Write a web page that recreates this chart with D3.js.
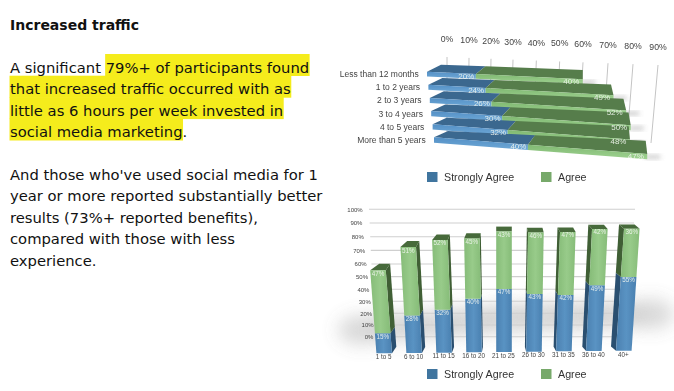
<!DOCTYPE html>
<html><head><meta charset="utf-8">
<script src="https://cdn.jsdelivr.net/npm/d3@7/dist/d3.min.js"></script>
<style>html,body{margin:0;padding:0;background:#fff}svg{display:block}</style></head>
<body><svg id="c" width="674" height="391" xmlns="http://www.w3.org/2000/svg"></svg>
<script>
// ---------- data ----------
const title = "Increased traffic";
const paragraphLines = [
  [["A significant ",false],["79%+ of participants found",true]],
  [["that increased traffic occurred with as",true]],
  [["little as 6 hours per week invested in",true]],
  [["social media marketing",true],[".",false]],
  [],
  [["And those who've used social media for 1",false]],
  [["year or more reported substantially better",false]],
  [["results (73%+ reported benefits),",false]],
  [["compared with those with less",false]],
  [["experience.",false]]
];
const legendNames = ["Strongly Agree","Agree"];
const expCategories = ["Less than 12 months","1 to 2 years","2 to 3 years","3 to 4 years","4 to 5 years","More than 5 years"];
const expStrong = [20,24,26,30,32,40];
const expAgree  = [40,49,52,50,48,47];
const expTicks  = [0,10,20,30,40,50,60,70,80,90];
const hourCategories = ["1 to 5","6 to 10","11 to 15","16 to 20","21 to 25","26 to 30","31 to 35","36 to 40","40+"];
const hourStrong = [15,28,32,40,47,43,42,49,55];
const hourAgree  = [47,51,52,45,43,46,47,42,36];
const hourTicks  = [0,10,20,30,40,50,60,70,80,90,100];

const svg = d3.select("#c");
const defs = svg.append("defs");
const poly = d3.line();
const SANS = "'Liberation Sans',Arial,sans-serif";

function grad(id,stops,x2,y2){
  const g=defs.append("linearGradient").attr("id",id).attr("x1",0).attr("y1",0).attr("x2",x2).attr("y2",y2);
  stops.forEach(([o,c])=>g.append("stop").attr("offset",o).attr("stop-color",c));
}
grad("fb",[[0,"#5490c6"],[1,"#6ea8d6"]],0,1);
grad("fg",[[0,"#80b972"],[1,"#9fd291"]],0,1);
grad("vb",[[0,"#4a80b0"],[.5,"#5a93c3"],[1,"#4a80b0"]],1,0);
grad("vg",[[0,"#86bc78"],[.5,"#98cb8a"],[1,"#86bc78"]],1,0);
[["soft",.35],["b3",2.5],["b9",9]].forEach(([id,s])=>{
  defs.append("filter").attr("id",id).attr("x","-60%").attr("y","-60%").attr("width","220%").attr("height","220%")
    .append("feGaussianBlur").attr("stdDeviation",s);
});

// ---------- left text ----------
const txt = svg.append("g").attr("font-family","'DejaVu Sans',Verdana,sans-serif").attr("font-size",14.75).attr("fill","#111");
txt.append("text").attr("x",10).attr("y",30).attr("font-size",14).attr("font-weight","bold").text(title);
const lineY = d3.scaleLinear().domain([0,9]).range([73,265.6]);
paragraphLines.forEach((runs,i)=>{
  let x=10;
  const y=lineY(i);
  runs.forEach(([s,hi])=>{
    const t=txt.append("text").attr("x",x).attr("y",y).text(s).style("white-space","pre");
    const w=t.node().getComputedTextLength();
    if(hi) txt.insert("rect","text").attr("x",x-.5).attr("y",y-19+(i==0?0:.3)).attr("width",w+1).attr("height",22).attr("fill","#f5ec1c");
    x+=w;
  });
});

// ---------- horizontal chart ----------
const top3 = svg.append("g").attr("filter","url(#soft)").attr("font-family",SANS);
const tickX = d3.scaleLinear().domain([0,30,60,90]).range([447,513,583,658]);
const tickTopY = d3.scaleLinear().domain([0,90]).range([57,65]);
const tickLabelY = d3.scaleLinear().domain([0,90]).range([42,50]);
const tickLean = d3.scaleLinear().domain([0,90]).range([0,7]);
top3.selectAll(".gl").data(expTicks).join("line").attr("class","gl")
  .attr("x1",d=>tickX(d)).attr("y1",d=>tickTopY(d))
  .attr("x2",d=>tickX(d)-tickLean(d)).attr("y2",143)
  .attr("stroke","#c4c4c4").attr("stroke-width",1);
top3.selectAll(".tl").data(expTicks).join("text").attr("class","tl")
  .attr("x",d=>tickX(d)).attr("y",d=>tickLabelY(d)).attr("text-anchor","middle")
  .attr("font-size",8.7).attr("fill","#444").text(d=>d+"%");

const rowIdx = d3.scaleLinear().domain([0,5]);
const frontLeft = rowIdx.copy().range([427,434]);
const backLeft  = rowIdx.copy().range([441,448]);
const frontW100 = d3.scaleLinear().domain([0,1,5]).range([267,258,247]);
const backW100  = d3.scaleLinear().domain([0,1,5]).range([243,235,229]);
const frontY0   = rowIdx.copy().range([71.7,137.3]);
const backY0    = rowIdx.copy().range([64.7,131]);
const frontSlope= d3.scaleLinear().domain([0,4,5]).range([.049,.078,.078]);
const backSlope = rowIdx.copy().range([.037,.049]);
const faceH     = rowIdx.copy().range([4.7,5.4]);
const unit = d3.scalePow().exponent(1.055).domain([0,100]).range([0,1]);
const fx=(i,v)=>frontLeft(i)+frontW100(i)*unit(v);
const bx=(i,v)=>backLeft(i)+backW100(i)*unit(v);
const fy=(i,v)=>frontY0(i)+frontSlope(i)*(fx(i,v)-frontLeft(i));
const by=(i,v)=>backY0(i)+backSlope(i)*(bx(i,v)-backLeft(i));

expCategories.forEach((cat,i)=>{
  const a=expStrong[i], b=a+expAgree[i];
  const g=top3.append("g");
  g.append("rect").attr("x",fx(i,b)-2).attr("y",fy(i,b)+1.5).attr("width",15).attr("height",3)
    .attr("fill","#777").attr("opacity",.5).attr("filter","url(#b3)");
  [[0,a,"#3b678f","url(#fb)"],[a,b,"#567d4b","url(#fg)"]].forEach(([s,e,tc,fc])=>{
    g.append("path").attr("d",poly([[fx(i,s),fy(i,s)],[bx(i,s),by(i,s)],[bx(i,e),by(i,e)],[fx(i,e),fy(i,e)]])+"Z").attr("fill",tc);
    const h=faceH(i);
    g.append("path").attr("d",poly([[fx(i,s),fy(i,s)],[fx(i,e),fy(i,e)],[fx(i,e),fy(i,e)+h],[fx(i,s),fy(i,s)+h]])+"Z").attr("fill",fc);
  });
});
expCategories.forEach((cat,i)=>{
  const a=expStrong[i], b=a+expAgree[i];
  [[a,a,9.5],[b,expAgree[i],11.5]].forEach(([v,lab,off])=>{
    top3.append("text").attr("x",fx(i,v)-off).attr("y",fy(i,v)+4.6).attr("text-anchor","middle")
      .attr("font-size",8).attr("fill","#f2f6f0").attr("fill-opacity",.9).text(lab+"%");
  });
});
const rowLabelX = rowIdx.copy().range([418.7,425.7]);
const rowLabelY = rowIdx.copy().range([77,143]);
top3.selectAll(".rl").data(expCategories).join("text").attr("class","rl")
  .attr("x",(d,i)=>rowLabelX(i)).attr("y",(d,i)=>rowLabelY(i)).attr("text-anchor","end")
  .attr("font-size",8.5).attr("fill","#444").text(d=>d);

function legend(parent,cy){
  const xs=[427,541], tx=[444,558], cols=["#41759f","#77a96b"];
  legendNames.forEach((n,k)=>{
    parent.append("rect").attr("x",xs[k]).attr("y",cy-5).attr("width",10.5).attr("height",10).attr("fill",cols[k]);
    parent.append("text").attr("x",tx[k]).attr("y",cy+3.8).attr("font-size",10.7).attr("fill","#333").text(n);
  });
}
legend(top3,177);

// ---------- column chart ----------
const low = svg.append("g").attr("filter","url(#soft)").attr("font-family",SANS);
const idx = d3.scaleLinear().domain([0,8]);
const gridY = d3.scaleLinear().domain([0,20,40,60,80,100]).range([336.7,313.3,289.3,264,236.7,209.3]);
const gridL = d3.scaleLinear().domain([0,100]).range([375,369]);
const gridR = d3.scaleLinear().domain([0,100]).range([625,635]);
const gridLabelX = d3.scaleLinear().domain([0,100]).range([369,355]);

// soft ground shadow behind the columns
const shadowX = d3.scaleLinear().domain([0,8]).range([362,650]);
const shadowY = d3.scaleLinear().domain([0,4,8]).range([330,318,314]);
low.append("g").selectAll("ellipse").data(hourCategories).join("ellipse")
  .attr("cx",(d,i)=>shadowX(i)).attr("cy",(d,i)=>shadowY(i))
  .attr("rx",24).attr("ry",15)
  .attr("fill","#808080").attr("opacity",.3).attr("filter","url(#b9)");

low.selectAll(".gy").data(hourTicks).join("line").attr("class","gy")
  .attr("x1",d=>gridL(d)).attr("x2",d=>gridR(d)).attr("y1",d=>gridY(d)).attr("y2",d=>gridY(d))
  .attr("stroke","#cfcfcf").attr("stroke-width",1.1);
low.selectAll(".yl").data(hourTicks).join("text").attr("class","yl")
  .attr("x",d=>gridLabelX(d)).attr("y",d=>gridY(d)+2.2).attr("text-anchor","middle")
  .attr("font-size",6).attr("fill","#444").text(d=>d+"%");

const baseC = idx.copy().range([384.2,623.8]);
const baseY = idx.copy().range([353.3,350.7]);
const lean = d3.scaleLinear().domain([0,4,8]).range([-.1,0,.088]);
const dxL = d3.scaleLinear().domain([0,4,8]).range([9,0,-5]);
const dxR = d3.scaleLinear().domain([0,4,8]).range([4.3,0,-5]);
const depth = d3.scaleLinear().domain([0,4,8]).range([6.5,4.8,4.2]);
const pct = d3.scaleLinear().domain([0,100]).range([0,134]);
const halfW = 7.8;
const cx=(i,v)=>baseC(i)+lean(i)*v;
const vy=(i,v)=>baseY(i)-pct(v);

hourCategories.forEach((cat,i)=>{
  const a=hourStrong[i], b=a+hourAgree[i];
  const g=low.append("g");
  const sideRight=i<4, leftSide=i>4;
  const d=depth(i);
  [[0,a,"#2c5070"],[a,b,"#3f5f35"]].forEach(([s,e,sc])=>{
    if(sideRight){
      g.append("path").attr("d",poly([[cx(i,s)+halfW,vy(i,s)],[cx(i,s)+halfW+dxR(i),vy(i,s)-d],[cx(i,e)+halfW+dxR(i),vy(i,e)-d],[cx(i,e)+halfW,vy(i,e)]])+"Z").attr("fill",sc);
    }
    if(leftSide){
      g.append("path").attr("d",poly([[cx(i,s)-halfW,vy(i,s)],[cx(i,s)-halfW+dxL(i),vy(i,s)-d],[cx(i,e)-halfW+dxL(i),vy(i,e)-d],[cx(i,e)-halfW,vy(i,e)]])+"Z").attr("fill",sc);
    }
  });
  g.append("path").attr("d",poly([[cx(i,b)-halfW,vy(i,b)],[cx(i,b)-halfW+dxL(i),vy(i,b)-d],[cx(i,b)+halfW+dxR(i),vy(i,b)-d],[cx(i,b)+halfW,vy(i,b)]])+"Z").attr("fill","#476a3b");
  [[0,a,"url(#vb)"],[a,b,"url(#vg)"]].forEach(([s,e,fc])=>{
    g.append("path").attr("d",poly([[cx(i,s)-halfW,vy(i,s)],[cx(i,s)+halfW,vy(i,s)],[cx(i,e)+halfW,vy(i,e)],[cx(i,e)-halfW,vy(i,e)]])+"Z").attr("fill",fc);
  });
  [[a,a],[b,hourAgree[i]]].forEach(([v,lab])=>{
    g.append("text").attr("x",cx(i,v)).attr("y",vy(i,v)+5.4).attr("text-anchor","middle")
      .attr("font-size",6.3).attr("fill","#f2f6f0").attr("fill-opacity",.9).text(lab+"%");
  });
  g.append("text").attr("x",baseC(i)-.5).attr("y",baseY(i)+5.8).attr("text-anchor","middle")
    .attr("font-size",6.3).attr("fill","#444").text(cat);
});
legend(low,374);
</script></body></html>
